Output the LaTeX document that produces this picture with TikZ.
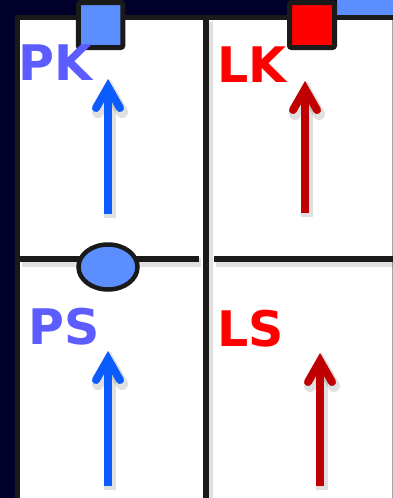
\documentclass[tikz,border=0pt]{standalone}
\usepackage{fontspec}
\setmainfont{DejaVu Sans}
\usetikzlibrary{calc,shapes.geometric}
\definecolor{navy}{HTML}{00002A}
\definecolor{lblue}{HTML}{5B8FFF}
\definecolor{ink}{HTML}{1A1A1A}
\definecolor{tblue}{HTML}{5C5CFF}
\definecolor{tred}{HTML}{FF0000}
\definecolor{ablue}{HTML}{0A5CFF}
\definecolor{ared}{HTML}{C00000}
\tikzset{
  divider/.style={draw=ink,line width=6.5pt},
  dshadow/.style={draw=black,opacity=0.12,line width=9pt},
  marker/.style={draw=ink,line width=5pt,rounded corners=2pt},
  lbl/.style={anchor=base west,inner sep=0pt,font=\bfseries\fontsize{49}{50}\selectfont},
  arrowline/.style={line width=8pt},
  ashadow/.style={draw=black,opacity=0.12},
}
\newcommand\myarrow[5]{%
  \coordinate (#1b) at (#2,#3);
  \coordinate (#1v) at (#2,#4);
  \draw[ashadow,line width=12pt] ($(#1b)+(2,4)$) -- ($(#1v)+(2,4)$);
  \draw[ashadow,line width=12pt,line cap=round] ($(#1v)+(-10,25)$) -- ($(#1v)+(2,4)$) -- ($(#1v)+(14,25)$);
  \draw[arrowline,draw=#5] (#1b) -- (#1v);
  \draw[arrowline,draw=#5,line cap=round,miter limit=10] ($(#1v)+(-12,21)$) -- (#1v) -- ($(#1v)+(12,21)$);
}
\begin{document}
\begin{tikzpicture}[x=1pt,y=-1pt]
  \useasboundingbox (0,0) rectangle (393,498);
  % background
  \fill[navy] (0,0) rectangle (393,498);
  \fill[lblue] (337,0) rectangle (393,16);
  % panel
  \filldraw[fill=white,draw=ink,line width=5.5pt] (17.5,17.5) rectangle (420,520);
  \draw[black!35,line width=1pt] (392.5,20) -- (392.5,498);
  % divider shadows
  \draw[dshadow] (208,22) -- (208,498);
  \draw[dshadow] (22,262) -- (201,262);
  \draw[dshadow] (216,262) -- (393,262);
  % dividers
  \coordinate (vt) at (206,17.5);
  \coordinate (vb) at (206,498);
  \draw[divider] (vt) -- (vb);
  \coordinate (hl1) at (20,259);
  \coordinate (hl2) at (199,259);
  \coordinate (hr1) at (214,259);
  \coordinate (hr2) at (393,259);
  \draw[divider] (hl1) -- (hl2);
  \draw[divider] (hr1) -- (hr2);
  % ellipse marker
  \node[draw=ink,fill=lblue,line width=4.5pt,ellipse,minimum width=59pt,minimum height=45pt,inner sep=0pt] (ps) at (108,267) {};
  % squares
  \node[marker,fill=lblue,minimum width=44.5pt,minimum height=45pt,inner sep=0pt] (pk) at (100.5,25) {};
  \node[marker,fill=tred,minimum width=45pt,minimum height=45pt,inner sep=0pt] (lk) at (312,25) {};
  % labels
  \node[lbl,text=tblue] (pkl) at (18.5,80) {PK};
  \node[lbl,text=tred] (lkl) at (217.5,82.5) {LK};
  \node[lbl,text=tblue] (psl) at (28.5,344.5) {PS};
  \node[lbl,text=tred] (lsl) at (217.5,346.5) {LS};
  % arrows
  \myarrow{a1}{108}{214}{87}{ablue}
  \myarrow{a2}{305}{213}{89}{ared}
  \myarrow{a3}{108}{486}{359}{ablue}
  \myarrow{a4}{320}{486}{361}{ared}
\end{tikzpicture}
\end{document}
